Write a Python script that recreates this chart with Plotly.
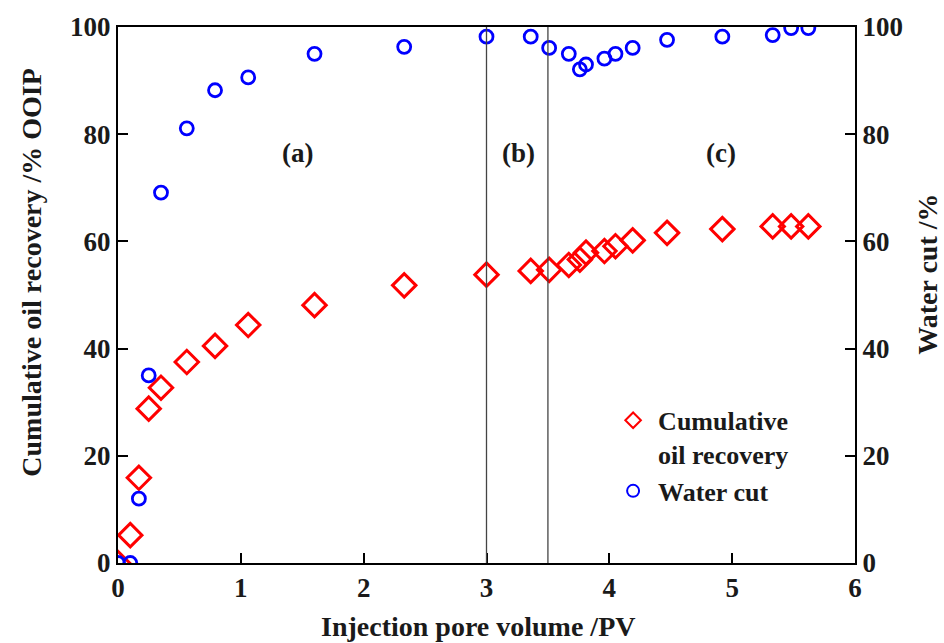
import plotly.graph_objects as go

# Data
pv_oil = [0.0, 0.10, 0.17, 0.25, 0.35, 0.56, 0.79, 1.06, 1.60, 2.33, 3.00, 3.36, 3.51, 3.67,
          3.76, 3.81, 3.96, 4.05, 4.19, 4.47, 4.92, 5.33, 5.48, 5.62]
oil_recovery = [0.0, 5.2, 15.9, 28.8, 32.7, 37.5, 40.5, 44.4, 48.1, 51.8, 53.8, 54.5, 54.7, 55.6,
                56.6, 57.9, 58.2, 59.1, 60.2, 61.6, 62.3, 62.8, 62.8, 62.8]

pv_water = [0.0, 0.10, 0.17, 0.25, 0.35, 0.56, 0.79, 1.06, 1.60, 2.33, 3.00, 3.36, 3.51, 3.67,
            3.76, 3.81, 3.96, 4.05, 4.19, 4.47, 4.92, 5.33, 5.48, 5.62]
water_cut = [0.0, 0.0, 12.0, 35.0, 69.1, 81.1, 88.2, 90.6, 95.0, 96.3, 98.2, 98.2, 96.1, 95.0,
             92.1, 93.0, 94.1, 95.0, 96.1, 97.6, 98.2, 98.5, 99.8, 99.8]

stage_bounds = [3.0, 3.5]
stage_labels = ["(a)", "(b)", "(c)"]
stage_label_x = [1.46, 3.26, 4.91]
stage_label_y = 76.5

x_ticks = [0, 1, 2, 3, 4, 5, 6]
y_ticks = [0, 20, 40, 60, 80, 100]

FONT = "Liberation Serif"
TXT = "#1a1a1a"

fig = go.Figure()
fig.add_trace(go.Scatter(
    x=pv_oil, y=oil_recovery, mode="markers", name="<b>Cumulative<br>oil recovery</b>",
    marker=dict(symbol="diamond-open", size=18, color="#ff0000", line=dict(width=3, color="#ff0000")),
))
fig.add_trace(go.Scatter(
    x=pv_water, y=water_cut, mode="markers", name="<b>Water cut</b>", yaxis="y2",
    marker=dict(symbol="circle-open", size=13, color="#0000ff", line=dict(width=2.8, color="#0000ff")),
))

for xb in stage_bounds:
    fig.add_shape(type="line", x0=xb, x1=xb, y0=0, y1=100, xref="x", yref="y",
                  line=dict(color="#444444", width=1.3))

for lbl, lx in zip(stage_labels, stage_label_x):
    fig.add_annotation(x=lx, y=stage_label_y, text="<b>%s</b>" % lbl, showarrow=False,
                       xref="x", yref="y", font=dict(family=FONT, size=27, color=TXT))

L, R, T, B = 118, 89, 22, 80
W, H = 944, 643
pw, ph = W - L - R, H - T - B

def px(xp, yp):
    return (xp - L) / pw, (H - B - yp) / ph

ax, ay = px(478, 627)
fig.add_annotation(x=ax, y=ay, xref="paper", yref="paper", yanchor="middle", xanchor="center",
                   text="<b>Injection pore volume /PV</b>", showarrow=False,
                   font=dict(family=FONT, size=28, color=TXT))
ax, ay = px(32, 270)
fig.add_annotation(x=ax, y=ay, xref="paper", yref="paper", xanchor="center", yanchor="middle",
                   text="<b>Cumulative oil recovery /% OOIP</b>",
                   showarrow=False, textangle=-90, font=dict(family=FONT, size=28, color=TXT))
ax, ay = px(928, 272)
fig.add_annotation(x=ax, y=ay, xref="paper", yref="paper", xanchor="center", yanchor="middle",
                   text="<b>Water cut /%</b>",
                   showarrow=False, textangle=-90, font=dict(family=FONT, size=28, color=TXT))

axis_common = dict(showline=True, linecolor="black", linewidth=2, ticks="inside", ticklen=10,
                   tickwidth=2, tickcolor="black", showgrid=False, zeroline=False,
                   tickfont=dict(family=FONT, size=27, color=TXT))

fig.update_layout(
    width=W, height=H, margin=dict(l=L, r=R, t=T, b=B),
    plot_bgcolor="white", paper_bgcolor="white",
    xaxis=dict(range=[0, 6], tickvals=x_ticks, ticktext=["<b>%d</b>" % v for v in x_ticks],
               mirror=True, **axis_common),
    yaxis=dict(range=[0, 100], tickvals=y_ticks, ticktext=["<b>%d</b>" % v for v in y_ticks],
               **axis_common),
    yaxis2=dict(range=[0, 100], tickvals=y_ticks, ticktext=["<b>%d</b>" % v for v in y_ticks],
                overlaying="y", side="right", **axis_common),
    legend=dict(x=0.665, y=0.31, xanchor="left", yanchor="top", bgcolor="rgba(0,0,0,0)",
                font=dict(family=FONT, size=26, color=TXT), valign="top",
                itemsizing="constant", itemwidth=40, tracegroupgap=2),
    showlegend=True,
)

fig.write_html("out.html")
